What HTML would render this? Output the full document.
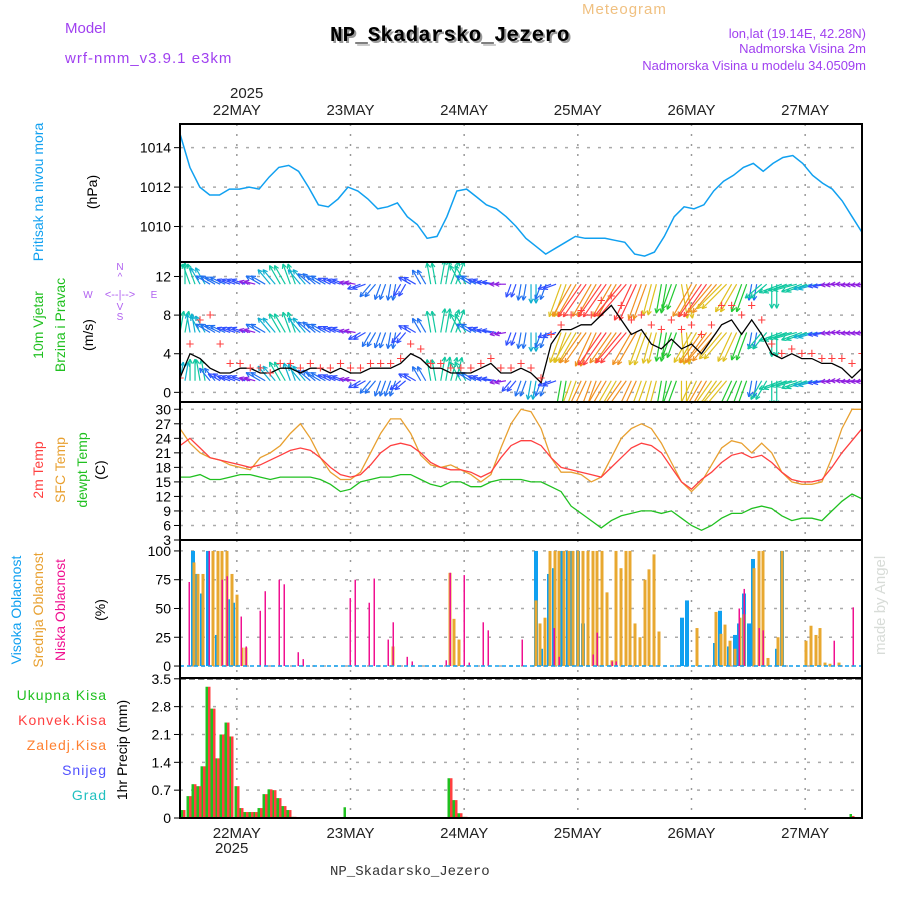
<!DOCTYPE html>
<html><head><meta charset="utf-8"><style>
body{margin:0;background:#fff}
svg{display:block;font-family:"Liberation Sans",sans-serif}
</style></head><body>
<svg id="c" width="900" height="900" xmlns="http://www.w3.org/2000/svg">
<defs><clipPath id="wclip"><rect x="180" y="263" width="682" height="138"/></clipPath></defs>
<text x="65" y="33" fill="#a040f0" font-size="15">Model</text>
<text x="65" y="63" fill="#a040f0" font-size="15" letter-spacing="1">wrf-nmm_v3.9.1 e3km</text>
<text x="582" y="14" fill="#f0c080" font-size="15" letter-spacing="1">Meteogram</text>
<text x="332" y="43" fill="#999" font-size="21" font-weight="bold" font-family="Liberation Mono,monospace">NP_Skadarsko_Jezero</text>
<text x="330" y="41" fill="#000" font-size="21" font-weight="bold" font-family="Liberation Mono,monospace">NP_Skadarsko_Jezero</text>
<text x="866" y="38" fill="#a040f0" font-size="13" text-anchor="end">lon,lat (19.14E, 42.28N)</text>
<text x="866" y="53" fill="#a040f0" font-size="13" text-anchor="end">Nadmorska Visina 2m</text>
<text x="866" y="70" fill="#a040f0" font-size="13" text-anchor="end">Nadmorska Visina u modelu 34.0509m</text>
<text x="330" y="875" fill="#333" font-size="14" font-family="Liberation Mono,monospace">NP_Skadarsko_Jezero</text>
<text transform="translate(885,655) rotate(-90)" fill="#d8dcd8" font-size="15">made by Angel</text>
<text x="230" y="98" font-size="15" fill="#222">2025</text>
<text x="215" y="853" font-size="15" fill="#222">2025</text>
<g font-size="14">
<text transform="translate(43,192) rotate(-90)" fill="#10a0f0" text-anchor="middle">Pritisak na nivou mora</text>
<text transform="translate(97,192) rotate(-90)" fill="#000" text-anchor="middle">(hPa)</text>
<text transform="translate(43,325) rotate(-90)" fill="#20c020" text-anchor="middle">10m Vjetar</text>
<text transform="translate(65,325) rotate(-90)" fill="#20c020" text-anchor="middle">Brzina i Pravac</text>
<text transform="translate(93,335) rotate(-90)" fill="#000" text-anchor="middle">(m/s)</text>
<text transform="translate(43,470) rotate(-90)" fill="#ff4040" text-anchor="middle">2m Temp</text>
<text transform="translate(65,470) rotate(-90)" fill="#e8a030" text-anchor="middle">SFC Temp</text>
<text transform="translate(87,470) rotate(-90)" fill="#20c020" text-anchor="middle">dewpt Temp</text>
<text transform="translate(105,470) rotate(-90)" fill="#000" text-anchor="middle">(C)</text>
<text transform="translate(21,610) rotate(-90)" fill="#10a0f0" text-anchor="middle">Visoka Oblacnost</text>
<text transform="translate(43,610) rotate(-90)" fill="#e8a030" text-anchor="middle">Srednja Oblacnost</text>
<text transform="translate(65,610) rotate(-90)" fill="#f01090" text-anchor="middle">Niska Oblacnost</text>
<text transform="translate(105,610) rotate(-90)" fill="#000" text-anchor="middle">(%)</text>
<text x="107" y="700" fill="#20c020" text-anchor="end" letter-spacing="1">Ukupna Kisa</text>
<text x="107" y="725" fill="#ff4040" text-anchor="end" letter-spacing="1">Konvek.Kisa</text>
<text x="107" y="750" fill="#ff8030" text-anchor="end" letter-spacing="1">Zaledj.Kisa</text>
<text x="107" y="775" fill="#5050ff" text-anchor="end" letter-spacing="1">Snijeg</text>
<text x="107" y="800" fill="#20c0c0" text-anchor="end" letter-spacing="1">Grad</text>
<text transform="translate(127,750) rotate(-90)" fill="#000" text-anchor="middle">1hr Precip (mm)</text>
</g>
<g fill="#b060f0" font-size="10">
<text x="120" y="270" text-anchor="middle">N</text><text x="120" y="280" text-anchor="middle">^</text>
<text x="120" y="298" text-anchor="middle" font-size="11">&lt;--|--&gt;</text>
<text x="88" y="298" text-anchor="middle">W</text><text x="154" y="298" text-anchor="middle">E</text>
<text x="120" y="310" text-anchor="middle">V</text><text x="120" y="320" text-anchor="middle">S</text>
</g>
</svg>
<script>
const days=["22MAY","23MAY","24MAY","25MAY","26MAY","27MAY"];
const pressure=[1014.7,1013,1012,1011.6,1011.6,1011.9,1011.9,1012,1011.9,1012.5,1013,1013.1,1012.8,1012,1011.1,1011,1011.4,1012,1011.8,1011.4,1010.9,1011,1011.2,1010.5,1010.1,1009.4,1009.5,1010.5,1011.8,1011.9,1011.5,1011.1,1010.9,1010.5,1010,1009.4,1009,1008.6,1008.9,1009.2,1009.5,1009.4,1009.4,1009.4,1009.3,1009.2,1008.6,1008.5,1008.7,1009.5,1010.5,1011,1010.9,1011.1,1011.8,1012.3,1012.6,1013,1013.2,1012.8,1013.2,1013.5,1013.6,1013.2,1012.6,1012.2,1011.9,1011.3,1010.5,1009.7];
const t2m=[22.5,24,22,20,19.5,19,18.5,18,18.5,19.5,20.5,21.5,22,21.5,20,18,16.5,16,16.5,18.5,21,22.5,23,22.5,21,19,18,17.5,17.5,17,16,17,20,22.5,23.5,23.5,22.5,20,18,17.5,17,16.5,16,18,20,22,23,22.5,21,18,15,13.5,15.5,17,19,20.5,21,20,20.5,19,17,15.5,15,15,15.5,18,21,23.5,26];
const tsfc=[26,23,21,20,19.5,18.5,18,17.5,20,21,22.5,25,27,24,20,17,15.5,15.5,17,21,25,28,28,25,20.5,18.5,18,18.5,17.5,16.5,15,16.5,22,27,30,29.5,26,20,17,17,16.5,15,16,20,24,26,27,26,23,19,15,13,15,18.5,22,23.5,23,21,23,21,17,15,14.5,14.5,15,20,26,30,30];
const dewpt=[16,16,16.5,15.5,15.5,16,16.5,16.5,16,15.5,16,16,16,16,15.5,14.5,13,13.5,15,15.5,16,16,16.5,16.5,15.5,14.5,14,15,15,14,14,15,15.5,15.5,15.5,15,15,14,13,10,8.5,7,5.5,7,8,8.5,9,9,8.5,9,7.5,6,5,6,7.5,8.5,8.5,9.5,10,9.5,8,7,7.5,7.5,7,9,11,12.5,11.5];
const windSpd=[1.5,4,3.5,2.5,2,2,2.5,2.5,2,2,2.5,2.5,2,2.5,2.5,2,2.5,2,2,2.5,2.5,2.5,3,4,3.5,2.5,2.5,2,2,2,2.5,3,2,2,2.5,2,1,5,6.5,6.5,7,7,8,9,7.5,6,6.5,5,4.5,5.5,4.5,5,4,5.5,7,7.5,6,7.5,6,4,3.5,4,3.5,3.5,3,3,2.5,1.5,2.5];
const gust=[1.5,5,7.5,8,5,3,3,2.5,2.5,2,3,3,2.5,3,2.5,2.5,3,2.5,2.5,3,3,3,3.5,5,4.5,3,3,2.5,2.5,2.5,3,3.5,2.5,2.5,3,2.5,1.5,6,7,8,8.5,8,9.5,10,9,7.5,8,7,6.5,7.5,6.5,7,6,7,9,9,8,9,7.5,5,4,4.5,4,4,3.5,3.5,3.5,3,4];
const dirHigh=[0,340,330,300,295,290,290,285,300,320,330,340,320,310,300,295,290,280,250,220,200,190,210,300,330,350,10,20,330,300,290,280,270,200,190,180,200,250,200,210,215,210,215,210,220,205,200,195,190,200,170,210,215,220,225,210,200,190,230,180,250,255,250,255,260,265,270,265,265];
const spdHigh=[6,6,5,4,4,3,3,2,4,5,6,6,5,4,4,3,3,2,3,4,4,4,3,3,4,6,7,7,6,4,3,3,2,3,4,5,4,3,11,12,13,12,13,12,14,13,12,10,9,8,11,12,13,12,11,10,9,4,6,7,7,7,6,5,3,2,2,2,2];
const dirMid=[10,350,330,300,295,290,290,285,300,320,330,340,320,310,300,295,290,280,240,210,200,190,220,300,330,350,10,20,330,300,290,280,260,200,190,180,200,250,200,210,215,205,215,215,220,210,200,195,190,200,175,210,215,220,220,205,200,190,220,180,250,255,250,255,260,265,270,265,265];
const spdMid=[6,5,5,4,4,3,3,2,4,5,6,6,5,4,4,3,3,2,3,4,4,4,3,3,4,6,7,7,6,4,3,3,2,3,4,5,4,3,10,11,12,12,13,12,13,12,11,10,9,8,10,11,12,12,11,10,9,4,6,7,7,7,6,5,3,2,2,2,2];
const dirLow=[10,0,350,320,300,290,290,285,300,320,330,340,320,310,300,295,290,280,240,220,200,200,230,300,330,350,10,15,330,300,290,280,260,220,200,190,200,250,190,200,205,200,210,210,215,205,200,195,190,200,180,205,210,215,220,205,200,190,210,180,250,255,250,255,260,265,270,265,265];
const spdLow=[5,6,6,4,3,3,3,2,4,5,6,5,5,4,4,3,3,2,3,4,4,4,3,3,4,6,7,7,6,4,3,3,2,3,4,5,4,3,9,11,12,12,12,11,12,12,11,10,9,8,10,11,12,11,10,9,8,4,6,7,7,6,6,5,3,2,2,2,2];
const highH=[193,197,202,208,217,228,233,536,541,549,554,560,563,568,572,578,583,682,687,715,720,729,735,739,744,749,753,777,782];
const highV=[100,80,63,100,27,58,55,100,15,80,85,100,100,100,100,100,37,42,57,20,48,17,27,37,63,37,93,15,100];
const midH=[194,198,203,213,218,222,227,232,237,242,246,393,450,454,459,536,540,545,550,555,559,564,569,573,578,583,588,593,597,602,607,612,616,621,626,630,635,640,645,649,654,659,697,716,721,725,730,735,740,744,754,759,763,768,778,782,806,811,816,820,825,830,839];
const midV=[90,80,80,100,100,100,100,80,62,16,16,17,81,41,23,57,37,42,100,100,100,100,100,100,100,100,100,100,100,100,64,5,100,85,100,100,37,25,75,84,97,30,33,47,28,36,22,15,42,45,85,100,100,7,25,100,22,35,27,33,3,2,3];
const lowH=[189,209,222,227,241,246,260,265,279,284,298,303,350,355,369,374,388,393,407,412,446,450,464,469,483,488,522,554,559,593,597,612,616,739,744,759,763,834,853];
const lowV=[73,100,75,78,43,17,48,65,75,71,12,6,59,75,55,76,23,38,8,4,5,81,79,3,38,31,23,33,8,10,29,4,4,50,67,33,31,22,51];
const precH=[183,189,194,199,203,208,213,217,222,227,231,237,241,246,251,255,260,265,270,274,279,284,289,294,346,450,455,460,465,852];
const precTot=[0.2,0.55,0.85,0.8,1.3,3.3,2.75,1.5,2.1,2.4,2.05,0.8,0.25,0.15,0.15,0.15,0.25,0.6,0.72,0.7,0.5,0.3,0.2,0.03,0.27,1.0,0.45,0.12,0.03,0.1];
const precConv=[0.2,0.55,0.85,0.8,1.3,3.3,2.75,1.5,2.1,2.4,2.05,0.8,0.25,0.15,0.15,0.15,0.25,0.6,0.72,0.7,0.5,0.3,0.2,0.03,0,1.0,0.45,0.12,0.03,0.05];

const NS="http://www.w3.org/2000/svg";
const svg=document.getElementById('c');
const X0=180,X1=862;
function el(t,a,p){const e=document.createElementNS(NS,t);for(const k in a)e.setAttribute(k,a[k]);(p||svg).appendChild(e);return e;}
function xi(i,n){return X0+i/(n-1)*(X1-X0);}
function xd(d){return X0+(d+0.5)*(X1-X0)/6;}
const panels=[
 {name:'pressure',top:124,bot:262,lo:1008.2,hi:1015.2,ticks:[1010,1012,1014]},
 {name:'wind',top:262,bot:402,lo:-1,hi:13.5,ticks:[0,4,8,12]},
 {name:'temp',top:402,bot:540,lo:3,hi:31.5,ticks:[3,6,9,12,15,18,21,24,27,30]},
 {name:'cloud',top:540,bot:678,lo:-10.4,hi:109.5,ticks:[0,25,50,75,100]},
 {name:'precip',top:678,bot:818,lo:0,hi:3.52,ticks:[0,0.7,1.4,2.1,2.8,3.5]}];
panels.forEach(p=>{p.y=v=>p.bot-(v-p.lo)/(p.hi-p.lo)*(p.bot-p.top);});
const [PP,PW,PT,PC,PR]=panels;
panels.forEach(p=>{
 const g=el('g',{});
 
 
 days.forEach((d,i)=>{const l=el('line',{x1:xd(i),x2:xd(i),y1:p.top,y2:p.bot,stroke:'#999','stroke-dasharray':'2,8','stroke-width':1.5},g);
  });
 p.ticks.forEach(t=>{const y=p.y(t);
  const l=el('line',{x1:X0,x2:X1,y1:y,y2:y,stroke:'#aaa','stroke-dasharray':'3,8',"stroke-width":1.5},g);
  
  const tk=el('line',{x1:X0-6,x2:X0,y1:y,y2:y,stroke:'#000'},g);
  
  const tx=el('text',{x:X0-9,y:y+5,'text-anchor':'end','font-size':14,fill:'#000'},g);
  tx.textContent=String(t);
  });
});
days.forEach((d,i)=>{
 const a=el('text',{x:xd(i),y:115,'text-anchor':'middle','font-size':15,fill:'#222'});a.textContent=d;
 
 const b=el('text',{x:xd(i),y:838,'text-anchor':'middle','font-size':15,fill:'#222'});b.textContent=d;
 
});
function line(arr,p,col,name,w,parent){
 const pts=arr.map((v,i)=>xi(i,arr.length).toFixed(1)+','+p.y(v).toFixed(1)).join(' ');
 const l=el('polyline',{points:pts,fill:'none',stroke:col,'stroke-width':w||1.3},parent);
 
}
line(pressure,PP,'#10a0f0','pressure-line',1.5);
line(tsfc,PT,'#e8a030','sfc-temp-line');
line(t2m,PT,'#ff4040','t2m-line');
line(dewpt,PT,'#20c020','dewpt-line');
// wind arrows
const wg=el('g',{'clip-path':'url(#wclip)'});


function col(s){return s<2.5?'#9020e0':s<3.5?'#3050ff':s<4.5?'#2070f0':s<5.5?'#10b0d0':s<7.5?'#10c8a0':s<9.5?'#20c830':s<11.5?'#e0c020':s<12.5?'#f09020':'#ff4040';}
function arrows(dirs,spds,lev,name){
 dirs.forEach((d,i)=>{
  const x=xi(i,dirs.length),y=PW.y(lev),L=6+spds[i]*2.6,a=d*Math.PI/180;
  const dx=Math.sin(a)*L,dy=-Math.cos(a)*L;
  const g=el('g',{stroke:col(spds[i]),'stroke-width':1.2,fill:'none'},wg);
  
  for(let k=0;k<2;k++){const ox=k*5;
   el('line',{x1:x+ox,y1:y,x2:x+ox+dx,y2:y+dy},g);
   const ex=x+ox+dx,ey=y+dy;
   for(const s of [-1,1]){const b=a+Math.PI+s*0.45;el('line',{x1:ex,y1:ey,x2:ex+Math.sin(b)*5,y2:ey-Math.cos(b)*5},g);}
  }
 });
}
arrows(dirHigh,spdHigh,11.2,'wind-arrow-high');
arrows(dirMid,spdMid,6.2,'wind-arrow-mid');
arrows(dirLow,spdLow,1.2,'wind-arrow-10m');
line(windSpd,PW,'#000','wind-speed-line',1.3,wg);
gust.forEach((v,i)=>{const x=xi(i,gust.length),y=PW.y(v);
 const t=el('text',{x:x,y:y+5,'text-anchor':'middle','font-size':15,fill:'#ff4040'},wg);t.textContent='+';
 });
// clouds
function bars(H,V,p,c,w,off,name){H.forEach((h,i)=>{const y=p.y(V[i]),y0=p.y(0);
 const r=el('rect',{x:h+off,y:y,width:w,height:Math.max(0,y0-y),fill:c});
 });}
bars(highH,highV,PC,'#10a0f0',4,-2,'high-cloud-bar');
bars(midH,midV,PC,'#e8a830',3,-1.5,'mid-cloud-bar');
bars(lowH,lowV,PC,'#f01090',1.5,-0.5,'low-cloud-bar');
const zl=el('line',{x1:X0,x2:X1,y1:PC.y(0),y2:PC.y(0),stroke:'#10a0f0','stroke-width':1.5,'stroke-dasharray':'4,3'});

bars(precH,precTot,PR,'#20c020',2.5,-2.5,'precip-total-bar');
bars(precH,precConv,PR,'#ff4040',2.5,0,'precip-conv-bar');
const dl=el('line',{x1:X0,x2:X1,y1:PR.y(3.5),y2:PR.y(3.5),stroke:'#000','stroke-width':1.5,'stroke-dasharray':'6,3'});

panels.forEach(p=>{
 const r=el('rect',{x:X0,y:p.top,width:X1-X0,height:p.bot-p.top,fill:'none',stroke:'#000','stroke-width':2});
 
});
</script>
</body></html>
